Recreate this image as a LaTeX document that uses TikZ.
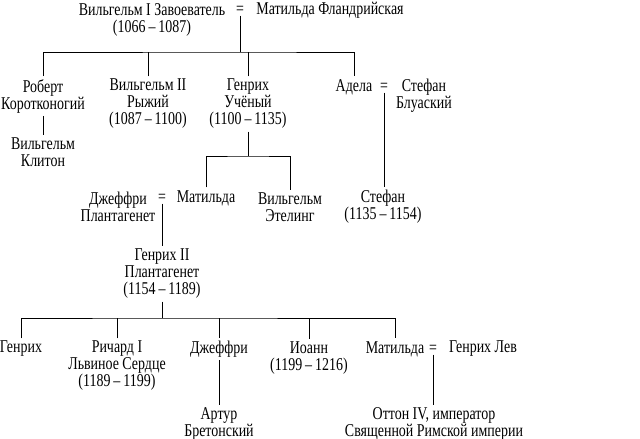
\documentclass[tikz,border=0pt]{standalone}
\usepackage{fontspec}
\setmainfont[FakeStretch=0.775]{Liberation Serif}
\tikzset{
  person/.style={align=center, inner sep=2pt},
  wed/.style={inner sep=1pt},
  line/.style={line width=0.6pt}
}
\begin{document}
\begin{tikzpicture}[x=0.75pt, y=-0.75pt, font=\fontsize{13.5}{12.75}\selectfont]
    \useasboundingbox (0,0) rectangle (640,439);

    % William the Conqueror
    \node[person] (wil1) at (152, 20) {Вильгельм I Завоеватель\\(1066\,–\,1087)};
    \node[wed] (eq1) at (240, 10) {=};
    \node[person] (mat1) at (330, 10) {Матильда Фландрийская};
    \coordinate (bar1) at (240, 52);

    \node[person] (rob) at (43, 96) {Роберт\\Коротконогий};
    \node[person] (wil2) at (148, 104) {Вильгельм II\\Рыжий\\(1087\,–\,1100)};
    \node[person] (hen1) at (248, 104) {Генрих\\Учёный\\(1100\,–\,1135)};
    \node[person] (adela) at (354, 87) {Адела};
    \node[wed] (eq2) at (384, 87) {=};
    \node[person] (stbl) at (424, 96) {Стефан\\Блуаский};

    \node[person] (clit) at (43, 152) {Вильгельм\\Клитон};

    % Henry I
    \coordinate (bar2) at (248, 156);
    \node[person] (geof) at (118, 207) {Джеффри\\Плантагенет};
    \node[wed] (eq3) at (162, 198) {=};
    \node[person] (mat2) at (206, 198) {Матильда};
    \node[person] (wilae) at (290, 207) {Вильгельм\\Этелинг};
    \node[person] (stef) at (383, 207) {Стефан\\(1135\,–\,1154)};

    % Henry II
    \node[person] (hen2) at (162, 274) {Генрих II\\Плантагенет\\(1154\,–\,1189)};
    \coordinate (bar3) at (162, 318);

    \node[person] (hen3) at (21, 349) {Генрих};
    \node[person] (rich) at (117, 366) {Ричард I\\Львиное Сердце\\(1189\,–\,1199)};
    \node[person] (geof2) at (219, 349) {Джеффри};
    \node[person] (john) at (309, 358) {Иоанн\\(1199\,–\,1216)};
    \node[person] (mat3) at (395, 349) {Матильда};
    \node[wed] (eq4) at (433, 349) {=};
    \node[person] (hlion) at (483, 349) {Генрих Лев};

    \node[person] (arth) at (219, 424) {Артур\\Бретонский};
    \node[person] (otto) at (434, 424) {Оттон IV, император\\Священной Римской империи};

    % lines
    \draw[line] (eq1.south) -- (bar1);
    \draw[line] (rob.north) |- (bar1) -| (adela.north);
    \draw[line] (wil2.north) -- (wil2.north |- bar1);
    \draw[line] (hen1.north) -- (hen1.north |- bar1);
    \draw[line] (rob.south) -- (clit.north);
    \draw[line] (eq2.south) -- (eq2.south |- stef.north);

    \draw[line] (hen1.south) -- (bar2);
    \draw[line] (mat2.north) |- (bar2) -| (wilae.north);
    \draw[line] (eq3.south) -- (hen2.north);

    \draw[line] (hen2.south) -- (bar3);
    \draw[line] (hen3.north) |- (bar3) -| (mat3.north);
    \draw[line] (rich.north) -- (rich.north |- bar3);
    \draw[line] (geof2.north) -- (geof2.north |- bar3);
    \draw[line] (john.north) -- (john.north |- bar3);
    \draw[line] (geof2.south) -- (arth.north);
    \draw[line] (eq4.south) -- (eq4.south |- otto.north);
\end{tikzpicture}
\end{document}
